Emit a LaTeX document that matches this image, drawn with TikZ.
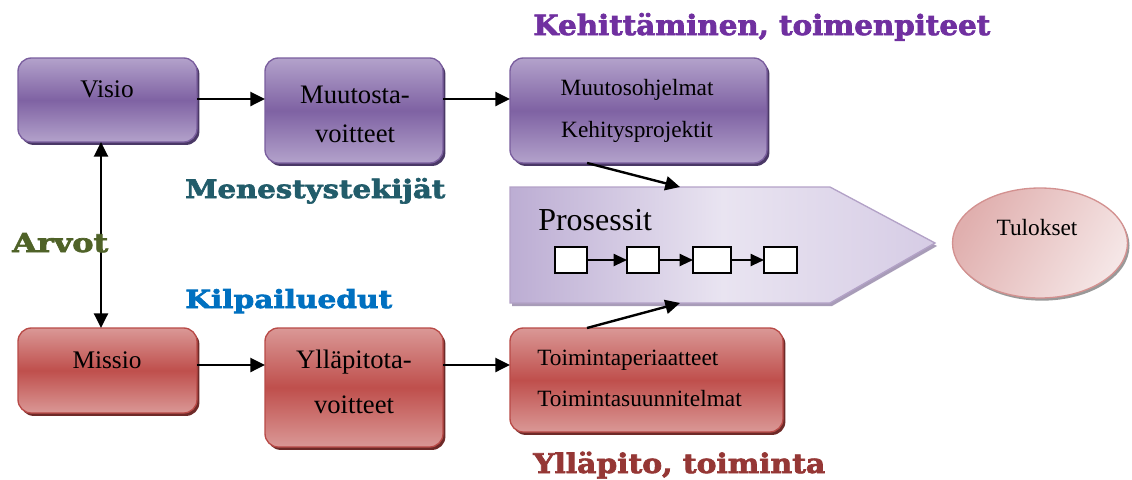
\documentclass[tikz,border=0pt]{standalone}
\usepackage{fontspec}
\setmainfont{Liberation Serif}
\newfontfamily\headfont{DejaVu Serif}[BoldFeatures={FakeBold=2.5}]
\usepackage{graphicx}
\usetikzlibrary{shadows,arrows.meta,calc,shapes.geometric}

% palette
\definecolor{plight}{HTML}{B3A2CB}
\definecolor{pdark}{HTML}{7F62A3}
\definecolor{pborder}{HTML}{7A5E9E}
\definecolor{pshadow}{HTML}{4A3866}
\definecolor{rlight}{HTML}{DA9896}
\definecolor{rdark}{HTML}{BF4F4C}
\definecolor{rborder}{HTML}{B84A47}
\definecolor{rshadow}{HTML}{6E2A28}
\definecolor{arrleft}{HTML}{BCADD3}
\definecolor{arrmid}{HTML}{E9E4F1}
\definecolor{arrright}{HTML}{D6CCE5}
\definecolor{arrborder}{HTML}{B3A2C7}
\definecolor{arrshadow}{HTML}{A89CB8}
\definecolor{elldark}{HTML}{E0AFAE}
\definecolor{elllight}{HTML}{F5E6E6}
\definecolor{ellborder}{HTML}{D39190}
\definecolor{kehcol}{HTML}{7030A0}
\definecolor{mencol}{HTML}{225C6A}
\definecolor{arvcol}{HTML}{4F6228}
\definecolor{kilcol}{HTML}{0070C0}
\definecolor{yllcol}{HTML}{953735}

\tikzset{
  purplebox/.style={rounded corners=10pt, draw=pborder, line width=1pt,
    top color=plight, bottom color=plight, middle color=pdark,
    drop shadow={shadow xshift=1.8pt, shadow yshift=-2.2pt, fill=pshadow, opacity=1},
    inner sep=0pt, outer sep=0pt},
  redbox/.style={rounded corners=10pt, draw=rborder, line width=1pt,
    top color=rlight, bottom color=rlight, middle color=rdark,
    drop shadow={shadow xshift=1.8pt, shadow yshift=-2.2pt, fill=rshadow, opacity=1},
    inner sep=0pt, outer sep=0pt},
  stepbox/.style={draw=black, fill=white, line width=1pt, minimum height=26*0.75pt,
    inner sep=0pt, outer sep=0pt},
  arr/.style={line width=1.8pt, -{Triangle[length=11pt,width=10.5pt]}},
  dblarr/.style={line width=1.8pt, {Triangle[length=11pt,width=10.5pt]}-{Triangle[length=11pt,width=10.5pt]}},
  smallarr/.style={line width=1.5pt, -{Triangle[length=10pt,width=9pt]}},
  boxtext/.style={anchor=base, inner sep=0pt, text=black},
  heading/.style={anchor=base west, inner sep=0pt, font=\headfont\bfseries},
}

\begin{document}
\begin{tikzpicture}[x=0.75pt, y=-0.75pt]
\useasboundingbox (0,0) rectangle (1132,479);

% upper row: development
\node[purplebox, minimum width=179*0.75pt, minimum height=84*0.75pt] (visio) at (107.5,100) {};
\node[purplebox, minimum width=178*0.75pt, minimum height=105*0.75pt] (muut) at (354,110.5) {};
\node[purplebox, minimum width=257*0.75pt, minimum height=105*0.75pt] (ohj) at (638.5,110.5) {};

% lower row: maintenance
\node[redbox, minimum width=179*0.75pt, minimum height=85*0.75pt] (missio) at (107.5,370.5) {};
\node[redbox, minimum width=178*0.75pt, minimum height=119*0.75pt] (yll) at (354,387.5) {};
\node[redbox, minimum width=273*0.75pt, minimum height=104*0.75pt] (toim) at (646.5,380) {};

% box texts
\node[boxtext, font=\fontsize{19}{19}\selectfont] (tvisio) at (107,97) {Visio};
\node[boxtext, font=\fontsize{19}{19}\selectfont] (tmissio) at (107,368) {Missio};
\node[boxtext, font=\fontsize{20}{20}\selectfont] (tmuut1) at (355,103) {Muutosta-};
\node[boxtext, font=\fontsize{20}{20}\selectfont] (tmuut2) at (355,142) {voitteet};
\node[boxtext, font=\fontsize{20}{20}\selectfont] (tyll1) at (354,368) {Ylläpitota-};
\node[boxtext, font=\fontsize{20}{20}\selectfont] (tyll2) at (354,413) {voitteet};
\node[boxtext, font=\fontsize{17.5}{17.5}\selectfont] (tohj1) at (637,95) {Muutosohjelmat};
\node[boxtext, font=\fontsize{17.5}{17.5}\selectfont] (tohj2) at (637,137) {Kehitysprojektit};
\node[boxtext, anchor=base west, font=\fontsize{17.5}{17.5}\selectfont] (ttoim1) at (537,365) {Toimintaperiaatteet};
\node[boxtext, anchor=base west, font=\fontsize{17.5}{17.5}\selectfont] (ttoim2) at (537,406) {Toimintasuunnitelmat};

% process arrow (pentagon) with its shadow
\fill[arrshadow] (512,190) -- (832,190) -- (937,246) -- (832,306) -- (512,306) -- cycle;
\shade[left color=arrleft, right color=arrright, middle color=arrmid, draw=arrborder, line width=1pt]
  (510,187) -- (830,187) -- (935,243) -- (830,303) -- (510,303) -- cycle;
\coordinate (ptop) at (680,187);
\coordinate (pbot) at (680,303);
\node[anchor=base west, inner sep=0pt, font=\fontsize{24}{24}\selectfont] (prosessit) at (538,230) {Prosessit};

% process steps
\node[stepbox, minimum width=32*0.75pt] (p1) at (571,260) {};
\node[stepbox, minimum width=32*0.75pt] (p2) at (643,260) {};
\node[stepbox, minimum width=38*0.75pt] (p3) at (712,260) {};
\node[stepbox, minimum width=33*0.75pt] (p4) at (780.5,260) {};
\draw[smallarr] (p1.east) -- (p2.west);
\draw[smallarr] (p2.east) -- (p3.west);
\draw[smallarr] (p3.east) -- (p4.west);

% results
\node[ellipse, minimum width=175*0.75pt, minimum height=110*0.75pt, inner sep=0pt,
      left color=elldark, right color=elllight, shading angle=60,
      draw=ellborder, line width=1pt,
      drop shadow={shadow xshift=1.5pt, shadow yshift=-2pt, fill=black!40, opacity=1}] (tul) at (1040,243) {};
\node[boxtext, font=\fontsize{17.5}{17.5}\selectfont] (ttul) at (1037,235) {Tulokset};

% connectors
\coordinate (toprow) at (0,99);
\coordinate (lowrow) at (0,365);
\coordinate (vline) at (101,0);
\draw[arr] (visio.east |- toprow) -- (muut.west |- toprow);
\draw[arr] (muut.east |- toprow) -- (ohj.west |- toprow);
\draw[arr] (missio.east |- lowrow) -- (yll.west |- lowrow);
\draw[arr] (yll.east |- lowrow) -- (toim.west |- lowrow);
\draw[dblarr] (vline |- visio.south) -- (vline |- missio.north);
\draw[arr] ($(ohj.south west)!0.3!(ohj.south east)$) -- (ptop);
\draw[arr] ($(toim.north west)!0.282!(toim.north east)$) -- (pbot);

% headings
\node[heading, text=kehcol] (hkeh) at (533,35) {\resizebox{342.75pt}{16.5pt}{Kehittäminen, toimenpiteet}};
\node[heading, text=mencol] (hmen) at (185,198) {\resizebox{195pt}{15pt}{Menestystekijät}};
\node[heading, text=arvcol] (harv) at (12,252) {\resizebox{72pt}{14.25pt}{Arvot}};
\node[heading, text=kilcol] (hkil) at (185,308) {\resizebox{155.25pt}{14.25pt}{Kilpailuedut}};
\node[heading, text=yllcol] (hyll) at (533,473) {\resizebox{219pt}{16pt}{Ylläpito, toiminta}};
\end{tikzpicture}
\end{document}
